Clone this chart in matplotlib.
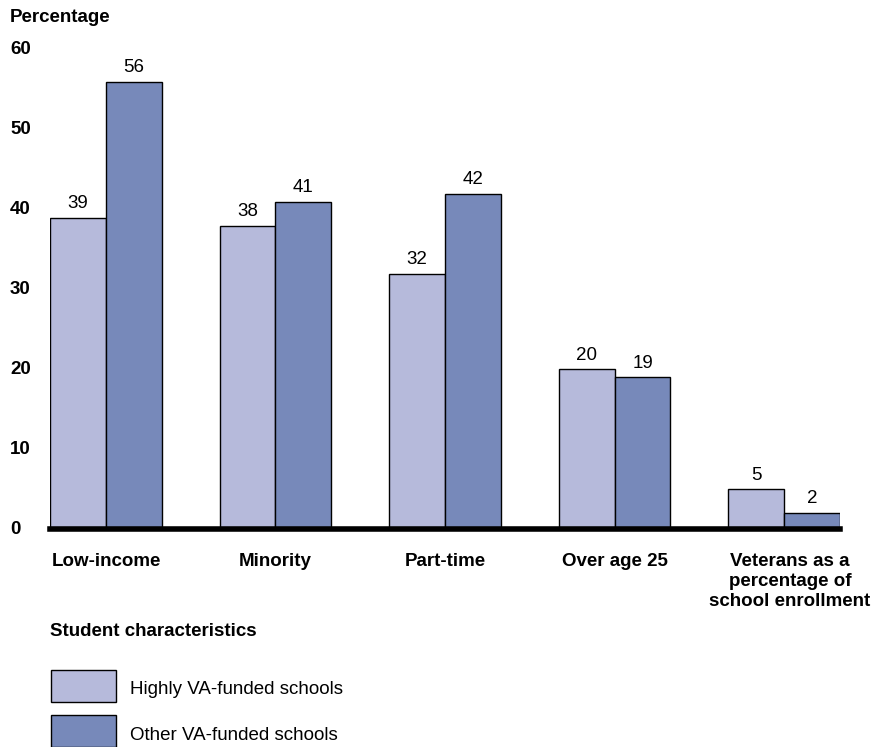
import matplotlib
matplotlib.use("Agg")
import matplotlib.pyplot as plt
import matplotlib.transforms as mtransforms
from matplotlib.patches import Rectangle
import numpy as np

categories = ["Low-income", "Minority", "Part-time", "Over age 25",
              "Veterans as a\npercentage of\nschool enrollment"]
highly_va = [39, 38, 32, 20, 5]
other_va = [56, 41, 42, 19, 2]
series_names = ["Highly VA-funded schools", "Other VA-funded schools"]
yticks = [0, 10, 20, 30, 40, 50, 60]

plt.rcParams['font.family'] = ['Liberation Sans', 'DejaVu Sans']

W, H = 876, 747
fig = plt.figure(figsize=(W / 100, H / 100), dpi=100)
ax = fig.add_axes([50 / W, 1 - 529 / H, 790 / W, (529 - 50) / H])

light = "#b6badb"
dark = "#7789ba"
colors = [light, dark]
bw = 0.33
x = np.arange(len(categories))
b1 = ax.bar(x - bw / 2, highly_va, bw, color=light, edgecolor="black", linewidth=1.0, zorder=2)
b2 = ax.bar(x + bw / 2, other_va, bw, color=dark, edgecolor="black", linewidth=1.0, zorder=2)

fs = 13.5
for rects, vals in ((b1, highly_va), (b2, other_va)):
    for r, v in zip(rects, vals):
        ax.annotate(str(v), (r.get_x() + r.get_width() / 2, v), xytext=(0, 4),
                    textcoords="offset points", ha="center", va="bottom", fontsize=fs)

ax.set_xlim(-0.33, len(categories) - 1 + 0.33)
ax.set_ylim(0, 60)
for s in ax.spines.values():
    s.set_visible(False)
ax.axhline(0, color="black", linewidth=4, zorder=3, clip_on=False)
ax.set_xticks([])
ax.set_yticks([])

trans = mtransforms.blended_transform_factory(fig.transFigure, ax.transData)
for t in yticks:
    ax.text(10 / W, t, str(t), transform=trans, ha="left", va="center",
            fontsize=fs, fontweight="bold")

xoff = [0, 0, 0, 0, 6]
for xi, c in zip(x, categories):
    fig.text((50 + 790 * (xi + 0.33) / 4.66 + xoff[xi]) / W, 1 - 553 / H, c, ha="center", va="top",
             fontsize=fs, fontweight="bold", linespacing=1.25)

fig.text(10 / W, 1 - 17 / H, "Percentage", ha="left", va="center", fontsize=fs, fontweight="bold")
fig.text(50 / W, 1 - 632 / H, "Student characteristics", ha="left", va="center",
         fontsize=fs, fontweight="bold")

for i, name in enumerate(series_names):
    top = 670 + i * 45
    fig.patches.append(Rectangle((51 / W, 1 - (top + 32) / H), 65 / W, 32 / H,
                                 transform=fig.transFigure, facecolor=colors[i],
                                 edgecolor="black", linewidth=1.0))
    fig.text(130 / W, 1 - (top + 20) / H, name, ha="left", va="center", fontsize=fs)

fig.savefig("out.png", dpi=100)
